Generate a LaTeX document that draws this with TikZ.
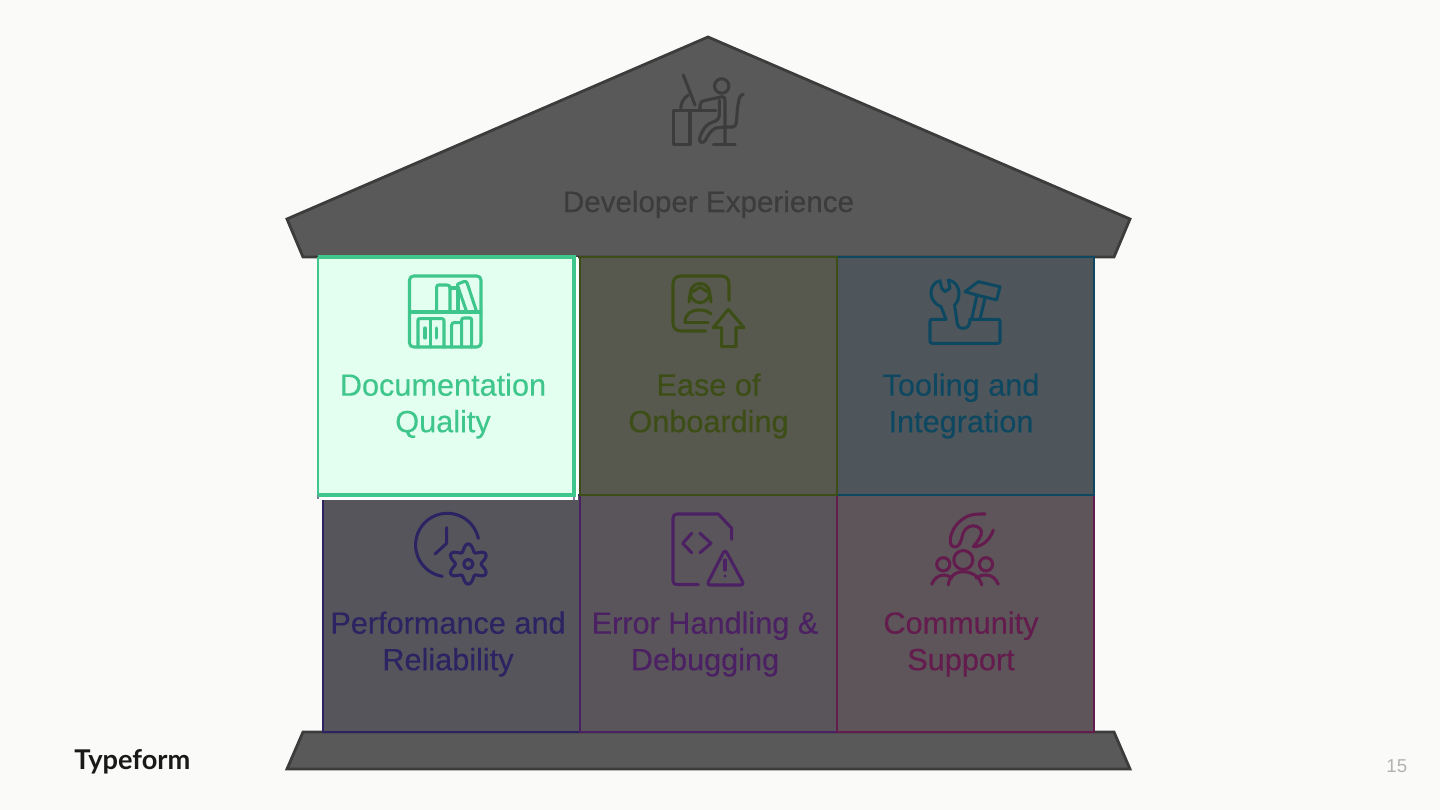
\documentclass[tikz,border=0pt]{standalone}
\usepackage{fontspec}
\setmainfont{Liberation Sans}
\newfontfamily\lblfont{Liberation Sans}[FakeBold=0.35]
\newfontfamily\logofont{Lato}
\definecolor{pagebg}{HTML}{FAFAF8}
\definecolor{roofc}{HTML}{595959}
\definecolor{roofl}{HTML}{3C3C3C}
\definecolor{docf}{HTML}{E3FFF0}
\definecolor{docl}{HTML}{3FC68C}
\definecolor{easef}{HTML}{58594E}
\definecolor{easel}{HTML}{3D4D16}
\definecolor{toolf}{HTML}{4E565B}
\definecolor{tooll}{HTML}{0E4860}
\definecolor{perff}{HTML}{55555B}
\definecolor{perfl}{HTML}{2C2363}
\definecolor{errf}{HTML}{5A555B}
\definecolor{errl}{HTML}{4C2163}
\definecolor{comf}{HTML}{5D5559}
\definecolor{coml}{HTML}{641C4E}
\tikzset{
  slab/.style={fill=roofc,draw=roofl,line width=2.1pt,line join=miter},
  cell/.style={line width=1.7pt},
  lbl/.style={font=\lblfont\fontsize{23}{27.4}\selectfont,align=center,inner sep=0pt},
  icon/.style={line width=2.3pt,line cap=round,line join=round},
}
\begin{document}
\begin{tikzpicture}[x=0.75pt,y=-0.75pt]
\useasboundingbox (0,0) rectangle (1440,810);
\fill[pagebg] (0,0) rectangle (1440,810);
% pediment and base
\draw[slab] (708,37) -- (1130,219) -- (1114,257) -- (303,257) -- (287,219) -- cycle;
\draw[slab] (303,732) -- (1114,732) -- (1130,769) -- (287,769) -- cycle;
% cell fills, then borders
\fill[perff] (323,495) rectangle (580,732);
\fill[errf] (580,495) rectangle (837,732);
\fill[comf] (837,495) rectangle (1094,732);
\fill[easef] (580,257) rectangle (837,495);
\fill[toolf] (837,257) rectangle (1094,495);
\draw[cell,draw=perfl] (323,495) rectangle (580,732);
\draw[cell,draw=errl] (580,495) rectangle (837,732);
\draw[cell,draw=coml] (837,495) rectangle (1094,732);
\draw[cell,draw=tooll] (837,257) rectangle (1094,495);
\draw[cell,draw=easel] (580,257) rectangle (837,495);
% highlighted cell
\fill[white] (317.5,257) rectangle (578,500);
\draw[perfl!60,line width=0.8pt] (318,495) -- (318,499) (574,495) -- (574,500);
\fill[docf] (318,257) rectangle (574,495);
\draw[docl,line width=1.2pt] (318,495) -- (318,257);
\draw[docl,line width=2.3pt] (318,257) -- (574,257) -- (574,495) -- (318,495);
% labels
\node[lbl,font=\lblfont\fontsize{22.2}{27.4}\selectfont,text=roofl,anchor=base] (tdev) at (708.5,212) {Developer Experience};
\node[lbl,text=docl] (tdoc) at (443,406) {Documentation\\Quality};
\node[lbl,text=easel] (tease) at (708.5,406) {Ease of\\Onboarding};
\node[lbl,text=tooll] (ttool) at (961,406) {Tooling and\\Integration};
\node[lbl,text=perfl] (tperf) at (448,644) {Performance and\\Reliability};
\node[lbl,text=errl] (terr) at (705,644) {Error Handling \&\\Debugging};
\node[lbl,text=coml] (tcom) at (961,644) {Community\\Support};
\node[anchor=base west,inner sep=0pt,font=\logofont\bfseries\fontsize{20.4}{24}\selectfont,text=black!90] (logo) at (74,769) {Typeform};
\node[anchor=base east,inner sep=0pt,font=\fontsize{14}{16}\selectfont,text=black!30] (pnum) at (1407.5,772) {15};
% developer icon
\begin{scope}[icon,draw=roofl]
\draw (721.7,86) circle[radius=7.2];
\draw (690,110.7) -- (673.3,110.7) -- (673.3,144.3) -- (690,144.3) -- cycle;
\draw (690,110.7) -- (716,110.7);
\draw (683.3,75) -- (695,105);
\draw (680.7,108.3) .. controls (681,102) and (684,98) .. (688.3,95);
\draw (700,110) -- (700,105) .. controls (700,102) and (702,101) .. (705,100.5) -- (722,96.7) .. controls (725,96.5) and (725,99) .. (725,101) -- (725,144);
\draw (719.3,100) -- (719.3,115) .. controls (719,119) and (717,121) .. (713,122) .. controls (706,124) and (703,129) .. (700,137) .. controls (698,142) and (702,144) .. (705,141) .. controls (708,135) and (711,130) .. (716,128) -- (725,127);
\draw (725,127) -- (733,127) .. controls (738,127) and (736,116) .. (738,105) .. controls (739,98) and (740,95) .. (743.3,94.3);
\draw (713.3,144.3) -- (735,144.3);
\end{scope}
% bookshelf icon
\begin{scope}[icon,draw=docl]
\draw[rounded corners=3pt] (409.5,276) rectangle (481,347);
\draw (409.5,312) -- (481,312);
\draw (436.7,312) -- (436.7,287) .. controls (436.7,285) and (438,285) .. (439,285) -- (447,285) .. controls (449,285) and (450,286) .. (450,288) -- (450,312);
\draw (450,288) -- (458,288) -- (458,312);
\draw (466.7,312) -- (457.7,286) .. controls (457,284) and (458,284) .. (459,283.5) -- (464,281.5) .. controls (466,281) and (467,282) .. (467.5,284) -- (476.7,312);
\draw (418,347) -- (418,320) .. controls (418,319) and (418.5,318.7) .. (420,318.7) -- (442,318.7) .. controls (443.5,318.7) and (444,319.5) .. (444,321) -- (444,347);
\draw (430.7,319) -- (430.7,347);
\draw (425,328) -- (425,338) (436.7,328) -- (436.7,338);
\draw (451.7,347) -- (451.7,325) .. controls (451.7,323) and (453,322.7) .. (454,322.7) -- (461.7,322.7) -- (461.7,347);
\draw (461.7,322.7) -- (461.7,320) .. controls (461.7,318.5) and (463,318) .. (464,318) -- (470,318) .. controls (471,318) and (471.7,319) .. (471.7,320) -- (471.7,347);
\end{scope}
% onboarding icon
\begin{scope}[icon,draw=easel]
\draw (729,300.7) -- (729,284) .. controls (729,279) and (726,276) .. (721,276) -- (681,276) .. controls (676,276) and (673,279) .. (673,284) -- (673,323) .. controls (673,328) and (676,331) .. (681,331) -- (705.7,331);
\draw (700,293) circle[radius=9.6];
\draw (691,292) .. controls (695,291) and (697,289) .. (700,287) .. controls (703,289) and (705,291) .. (709,292);
\draw (690.5,292) -- (689,302) (709.5,292) -- (711,302);
\draw (685,322.5) .. controls (685,314) and (691,310) .. (699,310) .. controls (704,310) and (708,311) .. (711,314);
\draw (685,322.5) -- (708,322.5);
\draw (728.3,309.3) -- (713.3,327.7) -- (721.7,327.7) -- (721.7,346.7) -- (736,346.7) -- (736,327.7) -- (744,327.7) -- cycle;
\end{scope}
% tools icon
\begin{scope}[icon,draw=tooll]
\draw[rounded corners=1.5pt] (970,319.3) -- (1000,319.3) -- (1000,343.3) -- (930,343.3) -- (930,319.3) -- (946,319.3);
\draw (956.7,319.3) .. controls (957,325) and (958,328.3) .. (963,328.3) .. controls (968,328.3) and (970,325) .. (970,319.3);
\draw (946,319.3) -- (941,306.5) .. controls (934,304) and (931,298) .. (931,293) .. controls (931,287) and (934,282) .. (940,280.7) -- (941.7,288.3) -- (945,291.7) -- (950,288.3) -- (948.3,280) .. controls (955,281) and (959,287) .. (959,293) .. controls (959,299) and (957,303) .. (954.5,305) -- (956.7,319.3);
\draw (965,291.7) -- (978.3,281.7) -- (1000,286.7) -- (996.7,300) -- (976.7,295) -- cycle;
\draw (976.7,296) -- (971.7,319.3) (985,298) -- (980,319.3);
\end{scope}
% performance icon
\begin{scope}[icon,draw=perfl]
\draw (478.3,538.4) arc[start angle=-12,end angle=-261,radius=31.7];
\draw (446.7,527.7) -- (446.7,543.3) -- (435,554);
\draw[smooth cycle] plot[domain=0:354,samples=60] ({468.3+(16.5-3.7*cos(6*\x))*cos(\x)},{564+(16.5-3.7*cos(6*\x))*sin(\x)});
\draw (468.3,564) circle[radius=4.6];
\end{scope}
% error icon
\begin{scope}[icon,draw=errl]
\draw (731.7,539.3) -- (731.7,528.3) -- (718.3,514) -- (677,514) .. controls (674.5,514) and (673,515.5) .. (673,518) -- (673,581) .. controls (673,583.5) and (674.5,584.5) .. (677,584.5) -- (698.3,584.5);
\draw (691.7,533.3) -- (682.7,543.3) -- (691.7,552.7);
\draw (700,533.3) -- (711,543.3) -- (700,552.7);
\draw[rounded corners=2.5pt] (725,549.3) -- (744.3,585) -- (706.7,585) -- cycle;
\draw (725,560) -- (725,570);
\fill[errl] (725,576) circle[radius=1.6];
\end{scope}
% community icon
\begin{scope}[icon,draw=coml]
\draw (963.3,560) circle[radius=9.5];
\draw (943.3,564.3) circle[radius=6.6];
\draw (986,564.3) circle[radius=6.6];
\draw (931.7,584.3) .. controls (934,578) and (939,575) .. (944,575) .. controls (947,575) and (949,576) .. (951.5,578);
\draw (948.3,585) .. controls (949,577) and (955,571.7) .. (963.3,571.7) .. controls (972,571.7) and (980,577) .. (981.7,585);
\draw (976,578) .. controls (979,576) and (982,575) .. (986,575) .. controls (992,575) and (996,579) .. (998.3,584.3);
\draw (985,514) .. controls (978,514) and (973,514) .. (968,516) .. controls (960,520) and (954,526) .. (951.5,534) .. controls (949,541) and (950,547) .. (955,547) .. controls (959,547) and (961,542) .. (962,537) .. controls (963,531) and (967,526) .. (973,525.7) .. controls (979,526) and (983,530) .. (981,535) .. controls (979,540) and (976,543) .. (973.3,546.7) .. controls (982,547) and (990,540) .. (993.3,530);
\end{scope}
\end{tikzpicture}
\end{document}
